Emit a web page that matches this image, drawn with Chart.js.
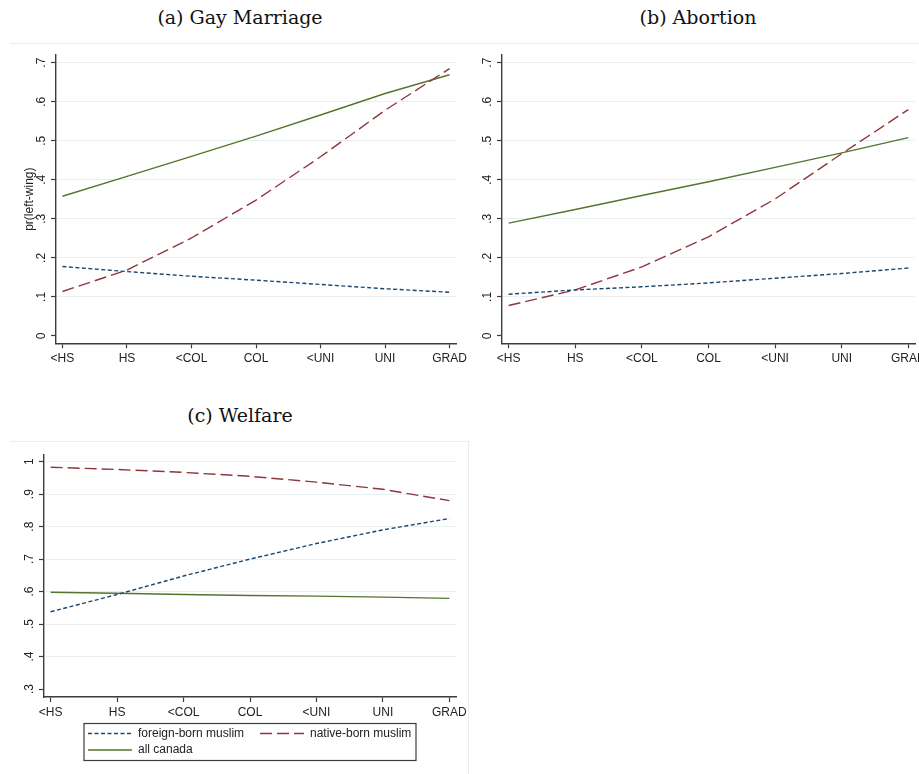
<!DOCTYPE html>
<html>
<head>
<meta charset="utf-8">
<script src="https://cdn.jsdelivr.net/npm/chart.js@4.4.1/dist/chart.umd.min.js"></script>
<style>
  html, body { margin: 0; padding: 0; background: #fff; }
  body { width: 919px; height: 774px; position: relative; overflow: hidden; }
  .title { position: absolute; font-family: "DejaVu Serif", serif; font-size: 19px; color: #111; transform: translateX(-50%); white-space: nowrap; }
  .panel { position: absolute; }
  .rule { position: absolute; background: #e6eef0; }
</style>
</head>
<body>
<div class="title" style="left:240px; top:6px;">(a) Gay Marriage</div>
<div class="title" style="left:698px; top:6px;">(b) Abortion</div>
<div class="title" style="left:240px; top:404px;">(c) Welfare</div>

<div class="rule" style="left:10px; top:43px; width:909px; height:1px;"></div>
<div class="rule" style="left:10px; top:441px; width:458px; height:1px;"></div>
<div class="rule" style="left:468px; top:441px; width:1px; height:333px;"></div>

<div class="panel" style="left:0; top:44px;"><canvas id="gay" width="490" height="336"></canvas></div>
<div class="panel" style="left:463px; top:44px;"><canvas id="abortion" width="500" height="336"></canvas></div>
<div class="panel" style="left:0; top:442px;"><canvas id="welfare" width="470" height="332"></canvas></div>

<script>
// education levels on the x axis
const educationLevels = ["<HS", "HS", "<COL", "COL", "<UNI", "UNI", "GRAD"];

const seriesNames = ["foreign-born muslim", "native-born muslim", "all canada"];

// (a) gay marriage
const gayForeign = [0.178, 0.165, 0.153, 0.143, 0.132, 0.121, 0.112];
const gayNative = [0.114, 0.169, 0.251, 0.348, 0.459, 0.578, 0.685];
const gayCanada = [0.358, 0.409, 0.460, 0.512, 0.566, 0.621, 0.669];

// (b) abortion
const abortionForeign = [0.107, 0.118, 0.126, 0.136, 0.148, 0.160, 0.174];
const abortionNative = [0.078, 0.118, 0.177, 0.254, 0.351, 0.467, 0.580];
const abortionCanada = [0.289, 0.324, 0.360, 0.395, 0.432, 0.469, 0.508];

// (c) welfare
const welfareForeign = [0.538, 0.591, 0.648, 0.700, 0.748, 0.790, 0.825];
const welfareNative = [0.983, 0.976, 0.967, 0.955, 0.937, 0.915, 0.880];
const welfareCanada = [0.598, 0.595, 0.591, 0.588, 0.586, 0.583, 0.579];

// y tick values and their stata style labels
const yTicksAB = [0, 0.1, 0.2, 0.3, 0.4, 0.5, 0.6, 0.7];
const yLabelsAB = ["0", ".1", ".2", ".3", ".4", ".5", ".6", ".7"];
const yTicksC = [0.3, 0.4, 0.5, 0.6, 0.7, 0.8, 0.9, 1];
const yLabelsC = [".3", ".4", ".5", ".6", ".7", ".8", ".9", "1"];

const TEXT = "#222";
const AXIS = "#3c3c3c";
const GRID = "#e8f0f1";
const FONT = '"Liberation Sans", Arial, sans-serif';
const NAVY = "#1a476f";
const MAROON = "#90353b";
const GREEN = "#55752f";

const lineStyles = [
  { color: NAVY, dash: [4, 2.5] },
  { color: MAROON, dash: [12, 5] },
  { color: GREEN, dash: [] },
];

// rotated y labels, stata draws them sideways
const yLabelPlugin = {
  id: "sideLabels",
  afterDraw(chart, args, opts) {
    const scale = chart.scales.y;
    const ctx = chart.ctx;
    ctx.save();
    ctx.font = "12px " + FONT;
    ctx.fillStyle = TEXT;
    ctx.textAlign = "center";
    ctx.textBaseline = "middle";
    opts.values.forEach((v, i) => {
      const y = scale.getPixelForValue(v);
      ctx.save();
      ctx.translate(chart.chartArea.left - 14, y);
      ctx.rotate(-Math.PI / 2);
      ctx.fillText(opts.labels[i], 0, 0);
      ctx.restore();
    });
    ctx.restore();
  },
};

// boxed two-column legend under the welfare panel
const boxLegendPlugin = {
  id: "boxLegend",
  afterDraw(chart, args, opts) {
    if (!opts.show) return;
    const ctx = chart.ctx;
    const sets = chart.data.datasets;
    const slots = [
      { x: 88, y: 291.5 },
      { x: 260, y: 291.5 },
      { x: 88, y: 308 },
    ];
    ctx.save();
    ctx.strokeStyle = AXIS;
    ctx.lineWidth = 1.2;
    ctx.strokeRect(84, 281.5, 332, 37);
    ctx.font = "12px " + FONT;
    ctx.fillStyle = TEXT;
    ctx.textBaseline = "middle";
    ctx.textAlign = "left";
    sets.forEach((ds, i) => {
      const s = slots[i];
      ctx.strokeStyle = ds.borderColor;
      ctx.lineWidth = ds.borderWidth;
      ctx.setLineDash(ds.borderDash);
      ctx.beginPath();
      ctx.moveTo(s.x, s.y);
      ctx.lineTo(s.x + 44, s.y);
      ctx.stroke();
      ctx.setLineDash([]);
      ctx.fillText(ds.label, s.x + 50, s.y);
    });
    ctx.restore();
  },
};

function makePanel(id, values, yMin, yMax, yTicks, yLabels, geo) {
  const datasets = values.map((vals, i) => ({
    label: seriesNames[i],
    data: vals.map((v, k) => ({ x: k, y: v })),
    borderColor: lineStyles[i].color,
    borderDash: lineStyles[i].dash,
    borderWidth: 1.4,
    pointRadius: 0,
    tension: 0,
    fill: false,
    order: i,
  }));

  return new Chart(document.getElementById(id), {
    type: "line",
    data: { datasets },
    plugins: [yLabelPlugin, boxLegendPlugin],
    options: {
      responsive: false,
      animation: false,
      events: [],
      layout: { padding: { left: 0, top: geo.top, right: geo.right, bottom: 0 } },
      plugins: {
        legend: { display: false },
        tooltip: { enabled: false },
        sideLabels: { values: yTicks, labels: yLabels },
        boxLegend: { show: !!geo.legend },
      },
      scales: {
        x: {
          type: "linear",
          min: -0.1,
          max: 6.1,
          afterBuildTicks: (s) => { s.ticks = educationLevels.map((_, i) => ({ value: i })); },
          afterFit: (s) => { s.height = geo.xHeight; s.paddingLeft = 0; s.paddingRight = 0; },
          ticks: {
            callback: (v) => educationLevels[v],
            font: { family: FONT, size: 12 },
            color: TEXT,
            padding: 3,
            maxRotation: 0,
            autoSkip: false,
          },
          grid: { drawOnChartArea: false, drawTicks: true, tickLength: 5, tickColor: AXIS, tickWidth: 1.2 },
          border: { display: true, color: AXIS, width: 1.4 },
        },
        y: {
          min: yMin,
          max: yMax,
          afterBuildTicks: (s) => { s.ticks = yTicks.map((v) => ({ value: v })); },
          afterFit: (s) => { s.width = geo.yWidth; s.paddingTop = 0; s.paddingBottom = 0; },
          ticks: { display: false },
          grid: {
            color: (c) => (c.tick && c.tick.value === yTicks[0] ? "rgba(0,0,0,0)" : GRID),
            lineWidth: 1,
            drawTicks: true,
            tickLength: 5,
            tickColor: AXIS,
            tickWidth: 1.2,
          },
          border: { display: true, color: AXIS, width: 1.4 },
          title: {
            display: !!geo.yTitle,
            text: geo.yTitle || "",
            color: TEXT,
            font: { family: FONT, size: 12 },
            padding: { top: 22, bottom: 0 },
          },
        },
      },
    },
  });
}

makePanel("gay", [gayForeign, gayNative, gayCanada], -0.0187, 0.7197, yTicksAB, yLabelsAB,
  { top: 11, right: 34, yWidth: 56, xHeight: 36.7, yTitle: "pr(left-wing)" });
makePanel("abortion", [abortionForeign, abortionNative, abortionCanada], -0.0187, 0.7197, yTicksAB, yLabelsAB,
  { top: 11, right: 48, yWidth: 39, xHeight: 36.7 });
makePanel("welfare", [welfareForeign, welfareNative, welfareCanada], 0.2754, 1.0206, yTicksC, yLabelsC,
  { top: 13, right: 14, yWidth: 44, xHeight: 77, legend: true });
</script>
</body>
</html>
